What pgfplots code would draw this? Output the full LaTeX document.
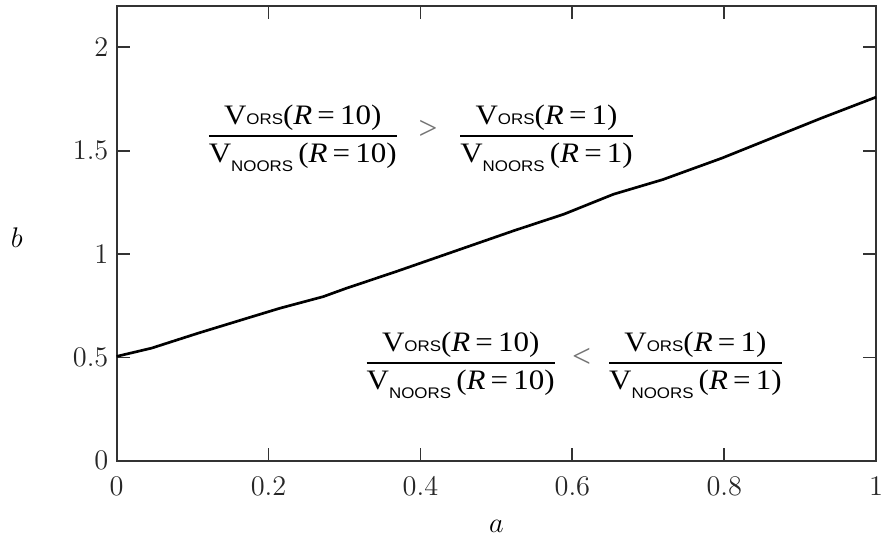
\documentclass[border=0pt,12pt]{standalone}
\usepackage{fontspec}
\usepackage{amsmath}
\usepackage{graphicx}
\usepackage{pgfplots}
\pgfplotsset{compat=1.18}
\newfontfamily\tnr{Liberation Serif}
\newfontfamily\ari{Liberation Sans}
\newcommand{\subs}[1]{{\ari\fontsize{7.8}{8}\selectfont #1}}
\newcommand{\Vnum}[1]{\hbox{\tnr V\subs{ORS}(\textit{R}\,=\,#1)}}
\newcommand{\Vden}[1]{\hbox{\tnr V\raisebox{-4.5bp}{\subs{NOORS}}\,(\textit{R}\,=\,#1)}}
\newcommand{\rat}[1]{\scalebox{1.1}[1]{$\displaystyle\genfrac{}{}{0.9bp}{0}{\Vnum{#1}}{\Vden{#1}}$}}
\begin{document}
\begin{tikzpicture}
\begin{axis}[
  scale only axis, width=384bp, height=230bp,
  xmin=0, xmax=1, ymin=0, ymax=2.2,
  xtick={0,0.2,0.4,0.6,0.8,1}, ytick={0,0.5,1,1.5,2},
  tick align=inside, major tick length=6.5bp,
  axis line style={line width=1bp, color=black!80},
  every tick/.style={line width=0.9bp, black!80},
  tick label style={font=\fontsize{15}{17}\selectfont, text=black!85},
  xticklabel style={yshift=-4bp},
  label style={font=\fontsize{15}{17}\selectfont},
  xlabel={$a$}, ylabel={$b$},
  xlabel style={at={(axis description cs:0.5,-0.145)}, anchor=center},
  ylabel style={at={(axis description cs:-0.1315,0.49)}, rotate=-90, anchor=center},
  clip=false,
]
\path (rel axis cs:-0.1536,-0.1609) rectangle (rel axis cs:1.0065,1.013);
\addplot[black, line width=1.35bp] coordinates {
(0,0.505) (0.046,0.545) (0.107,0.617) (0.172,0.690) (0.215,0.738) (0.272,0.794)
(0.302,0.834) (0.367,0.914) (0.454,1.025) (0.523,1.113) (0.589,1.193) (0.654,1.289)
(0.719,1.360) (0.797,1.464) (0.862,1.56) (0.927,1.656) (1.0,1.759)
};
\node[font=\fontsize{14.3}{16}\selectfont] at (axis cs:0.245,1.56) {\rat{10}};
\node[font=\fontsize{17}{18}\selectfont\tnr, text=black!55] at (axis cs:0.41,1.60) {>};
\node[font=\fontsize{14.3}{16}\selectfont] at (axis cs:0.566,1.56) {\rat{1}};
\node[font=\fontsize{14.3}{16}\selectfont] at (axis cs:0.453,0.462) {\rat{10}};
\node[font=\fontsize{17}{18}\selectfont\tnr, text=black!55] at (axis cs:0.612,0.497) {<};
\node[font=\fontsize{14.3}{16}\selectfont] at (axis cs:0.762,0.462) {\rat{1}};
\end{axis}
\end{tikzpicture}
\end{document}
